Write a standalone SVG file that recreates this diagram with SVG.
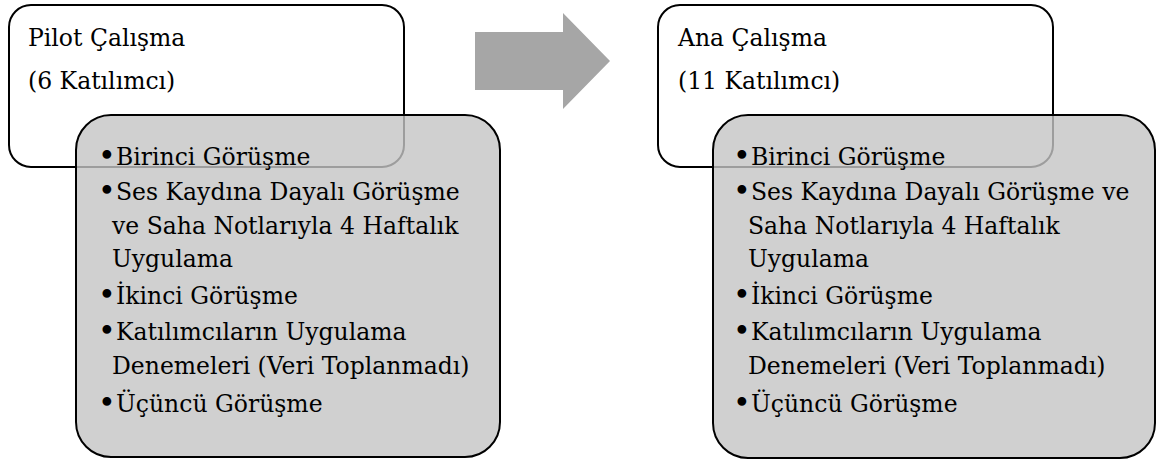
<svg xmlns="http://www.w3.org/2000/svg" width="1157" height="462" viewBox="0 0 1157 462">
<style>
.hdr{fill:#ffffff;stroke:#000000;stroke-width:2}
.det{fill:#c4c4c4;fill-opacity:0.8;stroke:#000000;stroke-width:2}
.t{font-family:"DejaVu Serif","Liberation Serif",serif;font-size:23.5px;fill:#000000}
.b{font-family:"DejaVu Serif","Liberation Serif",serif;font-size:30px;fill:#000000}
.arr{fill:#a6a6a6}
</style>
<rect width="1157" height="462" fill="#ffffff"/>
<g id="pilot-header">
<rect class="hdr" x="9" y="5" width="395" height="162" rx="22" ry="22"/>
<text class="t" x="28" y="46">Pilot Çalışma</text>
<text class="t" x="28" y="89">(6 Katılımcı)</text>
</g>
<g id="pilot-details">
<rect class="det" x="76" y="115" width="424" height="342" rx="35" ry="35"/>
<text class="b" x="98" y="166">•</text>
<text class="t" x="116" y="165">Birinci Görüşme</text>
<text class="b" x="98" y="201">•</text>
<text class="t" x="116" y="200">Ses Kaydına Dayalı Görüşme</text>
<text class="t" x="112" y="234">ve Saha Notlarıyla 4 Haftalık</text>
<text class="t" x="112" y="267">Uygulama</text>
<text class="b" x="98" y="305">•</text>
<text class="t" x="116" y="304">İkinci Görüşme</text>
<text class="b" x="98" y="341">•</text>
<text class="t" x="116" y="340">Katılımcıların Uygulama</text>
<text class="t" x="112" y="374">Denemeleri (Veri Toplanmadı)</text>
<text class="b" x="98" y="413">•</text>
<text class="t" x="116" y="412">Üçüncü Görüşme</text>
</g>
<g id="connectors">
<path class="arr" d="M475,32 L563,32 L563,13 L610,61 L563,109 L563,90 L475,90 Z"/>
</g>
<g id="main-header">
<rect class="hdr" x="658" y="5" width="395" height="162" rx="22" ry="22"/>
<text class="t" x="678" y="46">Ana Çalışma</text>
<text class="t" x="678" y="89">(11 Katılımcı)</text>
</g>
<g id="main-details">
<rect class="det" x="713" y="115" width="442" height="343" rx="35" ry="35"/>
<text class="b" x="733" y="166">•</text>
<text class="t" x="751" y="165">Birinci Görüşme</text>
<text class="b" x="733" y="201">•</text>
<text class="t" x="751" y="200">Ses Kaydına Dayalı Görüşme ve</text>
<text class="t" x="748" y="234">Saha Notlarıyla 4 Haftalık</text>
<text class="t" x="748" y="267">Uygulama</text>
<text class="b" x="733" y="305">•</text>
<text class="t" x="751" y="304">İkinci Görüşme</text>
<text class="b" x="733" y="341">•</text>
<text class="t" x="751" y="340">Katılımcıların Uygulama</text>
<text class="t" x="748" y="374">Denemeleri (Veri Toplanmadı)</text>
<text class="b" x="733" y="413">•</text>
<text class="t" x="751" y="412">Üçüncü Görüşme</text>
</g>
</svg>
